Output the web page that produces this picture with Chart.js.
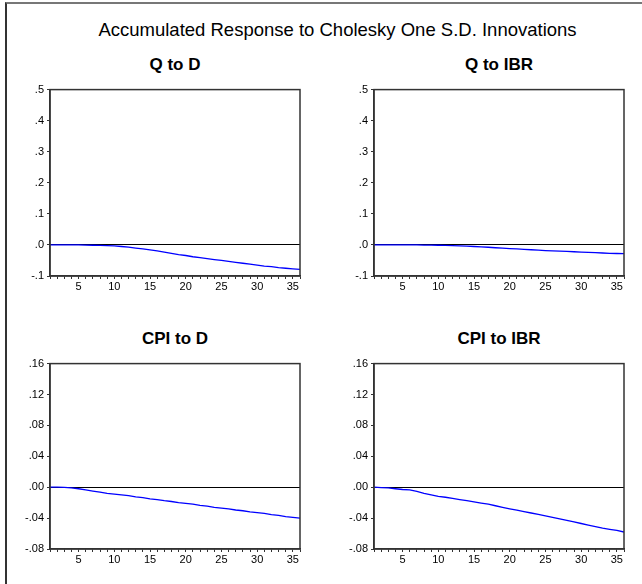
<!DOCTYPE html>
<html>
<head>
<meta charset="utf-8">
<script src="https://cdn.jsdelivr.net/npm/chart.js@4.4.1/dist/chart.umd.min.js"></script>
<style>
  body { margin: 0; background: #fff; font-family: "Liberation Sans", Arial, sans-serif; }
  #page { position: relative; width: 642px; height: 584px; overflow: hidden; background: #fff; }
  #frame { position: absolute; left: 5px; top: 2px; right: -4px; bottom: -4px; border-top: 2px solid #777; border-left: 2px solid #333; }
  .main-title { position: absolute; left: 0; width: 675px; top: 21px; text-align: center; font-size: 18.5px; line-height: 18.5px; color: #000; white-space: nowrap; }
  .sub { position: absolute; width: 250px; text-align: center; font-size: 17px; line-height: 17px; font-weight: bold; color: #000; }
  .panel { position: absolute; }
</style>
</head>
<body>
<div id="page">
  <div id="frame"></div>
  <div class="main-title">Accumulated Response to Cholesky One S.D. Innovations</div>
  <div class="sub" style="left:50px; top:56px;">Q to D</div>
  <div class="sub" style="left:374px; top:56px;">Q to IBR</div>
  <div class="sub" style="left:50px; top:330px;">CPI to D</div>
  <div class="sub" style="left:374px; top:330px;">CPI to IBR</div>
  <div class="panel" style="left:10px; top:80px; width:300px; height:216px;"><canvas id="c1"></canvas></div>
  <div class="panel" style="left:334px; top:80px; width:300px; height:216px;"><canvas id="c2"></canvas></div>
  <div class="panel" style="left:10px; top:354px; width:300px; height:215px;"><canvas id="c3"></canvas></div>
  <div class="panel" style="left:334px; top:354px; width:300px; height:215px;"><canvas id="c4"></canvas></div>
</div>
<script>
// periods (horizon)
const periods = [1, 2, 3, 4, 5, 6, 7, 8, 9, 10, 11, 12, 13, 14, 15, 16, 17, 18,
  19, 20, 21, 22, 23, 24, 25, 26, 27, 28, 29, 30, 31, 32, 33, 34, 35, 36];
const xLabelTicks = [5, 10, 15, 20, 25, 30, 35];

// accumulated responses
const qToD = [0, 0, 0, 0, 0, -0.0005, -0.001, -0.0015, -0.002, -0.003, -0.005, -0.007,
  -0.010, -0.013, -0.016, -0.019, -0.023, -0.027, -0.031, -0.034, -0.038, -0.041,
  -0.044, -0.047, -0.050, -0.053, -0.056, -0.059, -0.062, -0.065, -0.068, -0.070,
  -0.073, -0.075, -0.077, -0.079];
const qToIBR = [0, 0, 0, 0, 0, 0, 0, -0.0003, -0.0006, -0.001, -0.0015, -0.002,
  -0.003, -0.004, -0.005, -0.006, -0.0075, -0.009, -0.0105, -0.012, -0.013, -0.014,
  -0.0155, -0.017, -0.018, -0.019, -0.020, -0.021, -0.022, -0.023, -0.024, -0.025,
  -0.026, -0.027, -0.0275, -0.028];
const cpiToD = [0, 0, -0.0003, -0.001, -0.002, -0.0035, -0.005, -0.0065, -0.008, -0.009,
  -0.010, -0.011, -0.0125, -0.0135, -0.015, -0.016, -0.0175, -0.0185, -0.020, -0.021,
  -0.022, -0.0235, -0.0245, -0.026, -0.027, -0.028, -0.0295, -0.0305, -0.032, -0.033,
  -0.034, -0.0355, -0.0365, -0.038, -0.039, -0.040];
const cpiToIBR = [0, -0.0005, -0.001, -0.002, -0.003, -0.0035, -0.0055, -0.008, -0.010,
  -0.012, -0.013, -0.0145, -0.016, -0.0175, -0.019, -0.0205, -0.022, -0.024, -0.026,
  -0.028, -0.0298, -0.0316, -0.0334, -0.0352, -0.037, -0.039, -0.041, -0.043, -0.045,
  -0.047, -0.049, -0.051, -0.053, -0.0545, -0.056, -0.058];

// y axis ticks and their printed labels
const yTicksQ = [-0.1, 0, 0.1, 0.2, 0.3, 0.4, 0.5];
const yLabelsQ = ['-.1', '.0', '.1', '.2', '.3', '.4', '.5'];
const yTicksCPI = [-0.08, -0.04, 0, 0.04, 0.08, 0.12, 0.16];
const yLabelsCPI = ['-.08', '-.04', '.00', '.04', '.08', '.12', '.16'];

const axisColor = '#333';
const tickFont = { family: 'Liberation Sans', size: 11 };

// box around the plot area (top and right sides)
const boxPlugin = {
  id: 'plotBox',
  afterDraw(chart) {
    const a = chart.chartArea;
    const ctx = chart.ctx;
    ctx.save();
    ctx.strokeStyle = axisColor;
    ctx.lineWidth = 1.5;
    ctx.strokeRect(a.left, a.top, a.right - a.left, a.bottom - a.top);
    ctx.restore();
  }
};

function drawPanel(id, values, yTicks, yLabels) {
  const ctx = document.getElementById(id).getContext('2d');
  return new Chart(ctx, {
    type: 'line',
    data: {
      datasets: [{
        data: periods.map((p, i) => ({ x: p, y: values[i] })),
        borderColor: '#0000ff',
        borderWidth: 1.3,
        pointRadius: 0,
        tension: 0,
        fill: false
      }]
    },
    options: {
      responsive: true,
      maintainAspectRatio: false,
      animation: false,
      layout: { padding: { top: 8, right: 10, left: 0, bottom: 0 } },
      plugins: { legend: { display: false }, tooltip: { enabled: false } },
      scales: {
        x: {
          type: 'linear',
          min: 1,
          max: 36,
          afterBuildTicks: (scale) => { scale.ticks = periods.map(v => ({ value: v })); },
          afterFit: (scale) => { scale.height = 20; },
          border: { display: true, color: axisColor, width: 1.5 },
          grid: { drawOnChartArea: false, tickLength: 3, tickColor: axisColor, tickWidth: 1 },
          ticks: {
            autoSkip: false,
            maxRotation: 0,
            padding: 1,
            color: '#000',
            font: tickFont,
            callback: (v) => xLabelTicks.includes(v) ? String(v) : ''
          }
        },
        y: {
          min: yTicks[0],
          max: yTicks[yTicks.length - 1],
          afterBuildTicks: (scale) => { scale.ticks = yTicks.map(v => ({ value: v })); },
          afterFit: (scale) => { scale.width = 40; },
          border: { display: true, color: axisColor, width: 1.5 },
          grid: {
            drawOnChartArea: true,
            color: (c) => (c.tick && c.tick.value === 0) ? '#000' : 'rgba(0,0,0,0)',
            lineWidth: 1,
            tickLength: 3,
            tickColor: axisColor
          },
          ticks: {
            padding: 3,
            color: '#000',
            font: tickFont,
            callback: (v, i) => yLabels[i]
          }
        }
      }
    },
    plugins: [boxPlugin]
  });
}

drawPanel('c1', qToD, yTicksQ, yLabelsQ);
drawPanel('c2', qToIBR, yTicksQ, yLabelsQ);
drawPanel('c3', cpiToD, yTicksCPI, yLabelsCPI);
drawPanel('c4', cpiToIBR, yTicksCPI, yLabelsCPI);
</script>
</body>
</html>
